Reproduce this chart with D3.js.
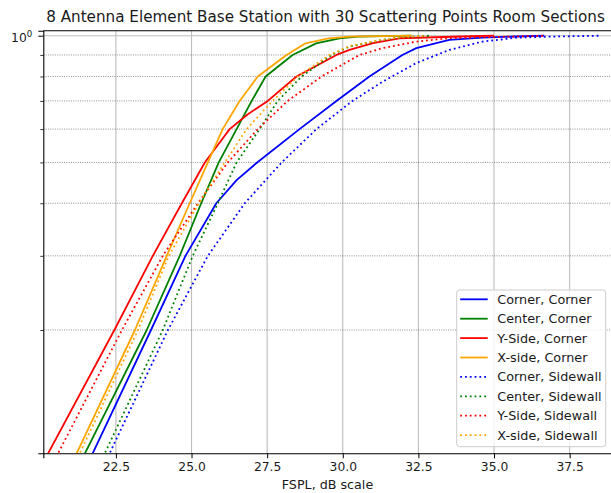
<!DOCTYPE html>
<html>
<head>
<meta charset="utf-8">
<script src="https://cdn.jsdelivr.net/npm/d3@7/dist/d3.min.js"></script>
<style>
  body { margin: 0; background: #fff; }
  svg text { font-family: "DejaVu Sans", sans-serif; fill: #1a1a1a; }
</style>
</head>
<body>
<div id="chart"></div>
<script>
const title = "8 Antenna Element Base Station with 30 Scattering Points Room Sections"
const xLabel = "FSPL, dB scale"
const xTicks = [22.5, 25.0, 27.5, 30.0, 32.5, 35.0, 37.5]
const yMajorTicks = [1]
const yMinorTicks = [0.2, 0.3, 0.4, 0.5, 0.6, 0.7, 0.8, 0.9]
const xDomain = [20.1, 38.9]
const yDomain = [0.1019, 1.0277]

const labels = [
  "Corner, Corner", "Center, Corner", "Y-Side, Corner", "X-side, Corner",
  "Corner, Sidewall", "Center, Sidewall", "Y-Side, Sidewall", "X-side, Sidewall"
]

// [FSPL dB, CDF]
const cornerCorner = [[21.68,0.1],[23.66,0.2],[24.80,0.3],[25.82,0.4],[26.49,0.454],[27.17,0.5],[28.57,0.6],[29.79,0.7],[30.88,0.8],[31.97,0.9],[32.43,0.934],[33.52,0.977],[34.61,0.99],[36.66,1.0]]
const centerCorner = [[21.42,0.1],[23.52,0.2],[24.61,0.3],[25.32,0.4],[25.90,0.5],[26.49,0.6],[26.99,0.7],[27.45,0.8],[28.34,0.9],[29.12,0.959],[29.89,0.986],[30.50,0.995],[32.27,1.0]]
const ySideCorner = [[20.20,0.1],[22.45,0.2],[23.72,0.3],[24.68,0.4],[25.44,0.5],[25.87,0.55],[26.26,0.6],[26.85,0.65],[27.52,0.7],[28.47,0.8],[29.79,0.9],[30.22,0.925],[31.00,0.96],[31.87,0.986],[34.20,0.997],[35.00,1.0]]
const xSideCorner = [[21.15,0.1],[23.13,0.2],[24.18,0.3],[24.94,0.4],[25.54,0.5],[26.03,0.6],[26.59,0.7],[27.19,0.8],[28.14,0.9],[28.77,0.959],[29.53,0.986],[30.22,0.995],[32.27,1.0]]
const cornerSidewall = [[22.24,0.1],[24.22,0.2],[25.54,0.3],[26.76,0.4],[27.98,0.5],[29.13,0.6],[30.32,0.7],[31.31,0.777],[32.43,0.861],[33.52,0.925],[34.61,0.968],[35.73,0.989],[36.82,0.995],[38.54,1.0]]
const centerSidewall = [[22.08,0.1],[24.05,0.2],[25.04,0.3],[25.87,0.4],[26.49,0.5],[27.25,0.6],[27.85,0.7],[28.64,0.8],[29.63,0.9],[30.22,0.942],[31.31,0.977],[32.00,0.992],[32.86,1.0]]
const ySideSidewall = [[20.53,0.1],[22.70,0.2],[24.05,0.3],[25.21,0.4],[26.20,0.5],[27.19,0.6],[28.18,0.7],[29.30,0.8],[30.55,0.9],[31.31,0.934],[32.43,0.968],[33.52,0.987],[36.72,1.0]]
const xSideSidewall = [[21.25,0.1],[23.23,0.2],[24.25,0.3],[25.24,0.4],[26.10,0.5],[26.82,0.6],[27.68,0.7],[28.51,0.8],[29.56,0.9],[30.22,0.945],[31.31,0.978],[32.00,0.992],[32.70,1.0]]

const seriesData = [cornerCorner, centerCorner, ySideCorner, xSideCorner,
  cornerSidewall, centerSidewall, ySideSidewall, xSideSidewall]
const colors = ["blue", "green", "red", "orange"]

let series = seriesData.map((values, i) => ({
  label: labels[i],
  values: values,
  color: colors[i % 4],
  dotted: i >= 4
}))

// dimensions
let totalWidth = 611
let totalHeight = 493
let margin = { top: 30.7, right: -1, bottom: 39.7, left: 43.3 }
let width = totalWidth - margin.left - margin.right
let height = totalHeight - margin.top - margin.bottom

let svg = d3.select("#chart").append("svg")
  .attr("width", totalWidth)
  .attr("height", totalHeight)

svg.append("defs").append("clipPath")
  .attr("id", "plot-clip")
  .append("rect")
  .attr("width", width)
  .attr("height", height)

let x = d3.scaleLinear().domain(xDomain).range([0, width])
let y = d3.scaleLog().domain(yDomain).range([height, 0])

let g = svg.append("g")
  .attr("transform", "translate(" + margin.left + "," + margin.top + ")")

// grid
g.append("g")
  .selectAll("line")
  .data(xTicks)
  .enter().append("line")
  .attr("x1", d => x(d)).attr("x2", d => x(d))
  .attr("y1", 0).attr("y2", height)
  .attr("stroke", "#bdbdbd")
  .attr("stroke-width", 1.1)

g.append("g")
  .selectAll("line")
  .data(yMajorTicks)
  .enter().append("line")
  .attr("x1", 0).attr("x2", width)
  .attr("y1", d => y(d)).attr("y2", d => y(d))
  .attr("stroke", "#bdbdbd")
  .attr("stroke-width", 1.1)

g.append("g")
  .selectAll("line")
  .data(yMinorTicks)
  .enter().append("line")
  .attr("x1", 0).attr("x2", width)
  .attr("y1", d => y(d)).attr("y2", d => y(d))
  .attr("stroke", "#444")
  .attr("stroke-width", 0.6)
  .attr("stroke-dasharray", "1,1.3")

// lines
let line = d3.line()
  .x(d => x(d[0]))
  .y(d => y(d[1]))

g.append("g")
  .attr("clip-path", "url(#plot-clip)")
  .selectAll("path")
  .data(series)
  .enter().append("path")
  .attr("d", d => line(d.values))
  .attr("fill", "none")
  .attr("stroke", d => d.color)
  .attr("stroke-width", 1.8)
  .attr("stroke-linejoin", "round")
  .attr("stroke-dasharray", d => d.dotted ? "1.8,3" : null)

// axes
let xAxis = g.append("g")
  .attr("transform", "translate(0," + height + ")")
  .call(d3.axisBottom(x).tickValues(xTicks).tickSize(5).tickPadding(4).tickFormat(d3.format(".1f")))
xAxis.select(".domain").attr("stroke", "#000").attr("stroke-width", 1.1)
xAxis.selectAll(".tick line").attr("stroke", "#000").attr("stroke-width", 1)
xAxis.selectAll(".tick text")
  .attr("font-size", 12.3)
  .attr("fill", "#1a1a1a")
  .style("font-family", "'DejaVu Sans', sans-serif")

let yMinorAxis = g.append("g")
  .call(d3.axisLeft(y).tickValues(yMinorTicks).tickSize(3).tickFormat(""))
yMinorAxis.select(".domain").remove()
yMinorAxis.selectAll(".tick line").attr("stroke", "#000").attr("stroke-width", 0.8)

let yAxis = g.append("g")
  .call(d3.axisLeft(y).tickValues(yMajorTicks).tickSize(5).tickFormat(""))
yAxis.select(".domain").attr("stroke", "#000").attr("stroke-width", 1.1)
yAxis.selectAll(".tick line").attr("stroke", "#000").attr("stroke-width", 1)

let yLabel = g.append("text")
  .attr("x", -11)
  .attr("y", y(1) + 6.5)
  .attr("text-anchor", "end")
  .attr("font-size", 12.3)
yLabel.append("tspan").text("10")
yLabel.append("tspan").attr("dy", -5.5).attr("font-size", 8.7).text("0")

// top spine
g.append("line")
  .attr("x1", 0).attr("x2", width)
  .attr("y1", 0).attr("y2", 0)
  .attr("stroke", "#000")
  .attr("stroke-width", 1.1)

// titles
svg.append("text")
  .attr("x", 325.5)
  .attr("y", 22.3)
  .attr("text-anchor", "middle")
  .attr("font-size", 15.2)
  .text(title)

svg.append("text")
  .attr("x", 327.5)
  .attr("y", 489)
  .attr("text-anchor", "middle")
  .attr("font-size", 12.7)
  .text(xLabel)

// legend
let legend = svg.append("g").attr("transform", "translate(456.7,290)")
legend.append("rect")
  .attr("width", 149)
  .attr("height", 156.7)
  .attr("rx", 3)
  .attr("fill", "#fff")
  .attr("fill-opacity", 0.8)
  .attr("stroke", "#cccccc")
  .attr("stroke-width", 1)

let rowGap = 19.4
let item = legend.selectAll(".item")
  .data(series)
  .enter().append("g")
  .attr("class", "item")
  .attr("transform", (d, i) => "translate(0," + (9.3 + i * rowGap) + ")")

item.append("line")
  .attr("x1", 3.5).attr("x2", 31)
  .attr("y1", 0).attr("y2", 0)
  .attr("stroke", d => d.color)
  .attr("stroke-width", 1.8)
  .attr("stroke-dasharray", d => d.dotted ? "1.8,3" : null)

item.append("text")
  .attr("x", 40.6)
  .attr("y", 4.5)
  .attr("font-size", 12.8)
  .text(d => d.label)
</script>
</body>
</html>
